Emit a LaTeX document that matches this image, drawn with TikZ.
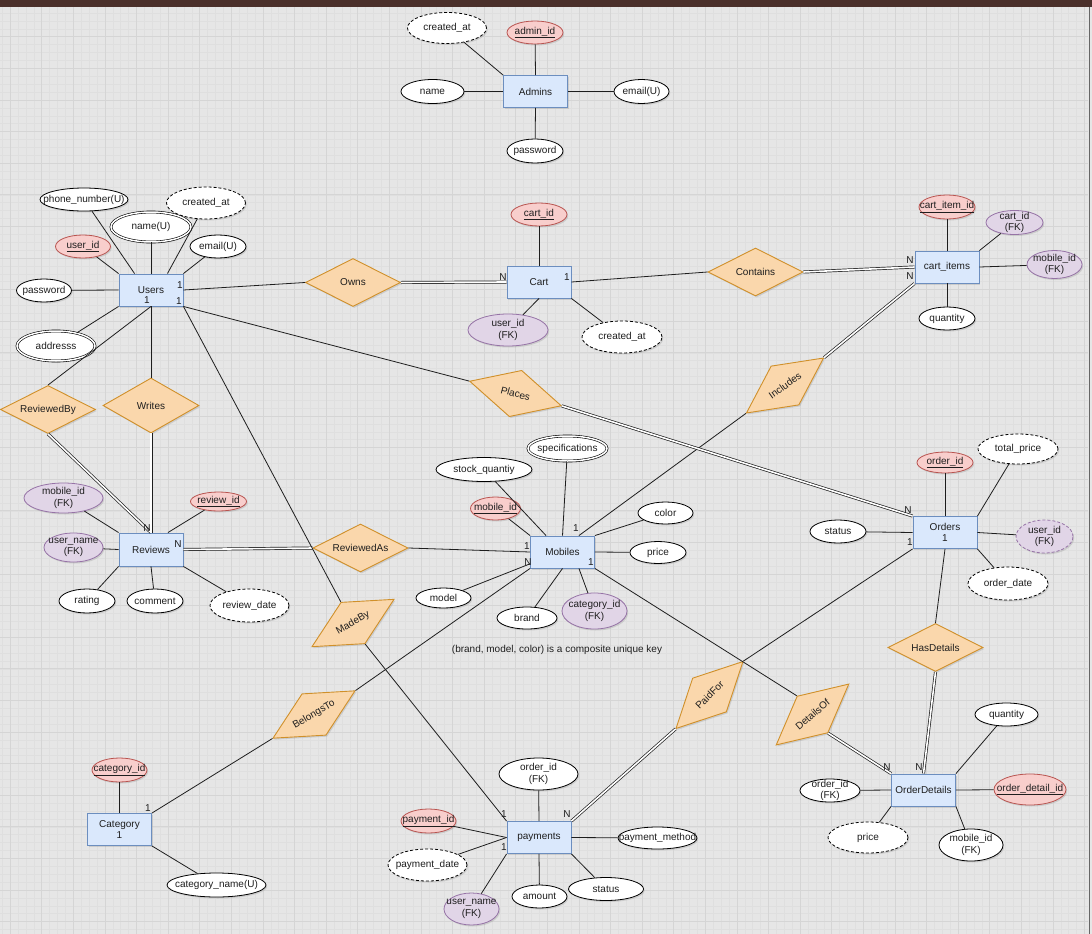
\documentclass[tikz,border=0pt]{standalone}
\usepackage{fontspec}
\setmainfont{Liberation Sans}
\usetikzlibrary{shapes.geometric,shadows}
\definecolor{entfill}{HTML}{DAE8FC}
\definecolor{entline}{HTML}{6C8EBF}
\definecolor{relfill}{HTML}{FAD7AC}
\definecolor{relline}{HTML}{D0902A}
\definecolor{pkfill}{HTML}{F8CECC}
\definecolor{pkline}{HTML}{B85450}
\definecolor{fkfill}{HTML}{E1D5E7}
\definecolor{fkline}{HTML}{9673A6}
\definecolor{canvas}{HTML}{E6E6E6}
\definecolor{gridmin}{HTML}{DFDFDF}
\definecolor{gridmaj}{HTML}{D5D5D5}
\definecolor{topbar}{HTML}{4B302B}
\definecolor{ink}{HTML}{1E1E1E}
\tikzset{
  x=1pt, y=-1pt,
  softshadow/.style={drop shadow={opacity=0.25, shadow xshift=1.2pt, shadow yshift=-1.5pt}},
  attr/.style={ellipse, draw=black, fill=white, line width=0.8pt, inner sep=0pt, softshadow,
    label={[align=center]center:#1}},
  pk/.style={attr={\underline{#1}}, draw=pkline, fill=pkfill},
  fk/.style={attr={#1}, draw=fkline, fill=fkfill},
  derived/.style={dash pattern=on 3pt off 2pt},
  multi/.style={double=white, double distance=1.5pt, line width=0.6pt},
  sz/.style 2 args={minimum width=#1pt, minimum height=#2pt},
  ln/.style={draw=ink, line width=0.8pt},
  dbl/.style={ln, double=white, double distance=1.6pt, line width=0.7pt},
  card/.style={inner sep=0pt},
}
\tikzstyle{every node}=[font=\fontsize{10}{11.5}\selectfont, text=ink]
\tikzstyle{ent}=[rectangle, draw=entline, fill=entfill, line width=0.9pt, minimum width=64pt,
  minimum height=32pt, inner sep=0pt, align=center, softshadow]
\tikzstyle{rel}=[diamond, aspect=2, draw=relline, fill=relfill, line width=0.9pt,
  minimum width=95pt, minimum height=48pt, inner sep=0pt, softshadow]

\begin{document}
\begin{tikzpicture}
  \useasboundingbox (0,0) rectangle (1092,934);
  \fill[canvas] (0,0) rectangle (1092,934);
  \foreach \gx in {2.1,10,...,1092} \draw[gridmin, line width=0.4pt] (\gx,7) -- (\gx,934);
  \foreach \gy in {5.1,13,...,934} \draw[gridmin, line width=0.4pt] (0,\gy) -- (1088,\gy);
  \foreach \gx in {10,41.6,...,1092} \draw[gridmaj, line width=0.5pt] (\gx,7) -- (\gx,934);
  \foreach \gy in {5.1,36.7,...,934} \draw[gridmaj, line width=0.5pt] (0,\gy) -- (1088,\gy);
  \fill[topbar] (0,0) rectangle (1092,7);
  \fill[black!60] (1088.5,7) rectangle (1090,934);

  % admins
  \node[ent] (adm) at (535.5,91.5) {Admins};
  \node[attr={created\_at}, derived, sz={79}{31}] (admcr) at (447,28) {};
  \node[pk={admin\_id}, sz={56}{23}] (admid) at (535,32.5) {};
  \node[attr=name, sz={63}{24}] (admnm) at (432.5,91.5) {};
  \node[attr={email(U)}, sz={55}{24}] (admem) at (641.5,91.5) {};
  \node[attr=password, sz={56}{24}] (admpw) at (535,151) {};

  % users
  \node[ent] (usr) at (151,290) {Users};
  \node[attr={phone\_number(U)}, sz={88}{23}] (usrph) at (84,199.5) {};
  \node[attr={created\_at}, derived, sz={79}{32}] (usrcr) at (206,203) {};
  \node[attr={name(U)}, multi, sz={80}{30}] (usrnm) at (151,227) {};
  \node[pk={user\_id}, sz={55}{23}] (usrid) at (83,246.5) {};
  \node[attr={email(U)}, sz={56}{23}] (usrem) at (218,246.5) {};
  \node[attr=password, sz={55}{23}] (usrpw) at (44,290.5) {};
  \node[attr=addresss, multi, sz={78}{30}] (usrad) at (56,346) {};

  % cart
  \node[ent] (crt) at (539,282) {Cart};
  \node[pk={cart\_id}, sz={56}{23}] (crtid) at (539,214.5) {};
  \node[fk={user\_id\\(FK)}, sz={80}{32}] (crtus) at (508,330) {};
  \node[attr={created\_at}, derived, sz={80}{32}] (crtcr) at (622,337) {};
  \node[rel] (own) at (353,282.5) {Owns};
  \node[rel] (cnt) at (755.5,272) {Contains};

  % cart items
  \node[ent] (cit) at (947,267) {cart\_items};
  \node[pk={cart\_item\_id}, sz={56}{24}] (citid) at (947,207) {};
  \node[fk={cart\_id\\(FK)}, sz={57}{24}] (citcr) at (1014.5,222.5) {};
  \node[fk={mobile\_id\\(FK)}, sz={55}{28}] (citmb) at (1054.5,264.5) {};
  \node[attr=quantity, sz={56}{23}] (citqt) at (947,318.5) {};
  \node[rel, rotate=35.5] (inc) at (785,385.5) {Includes};
  \node[rel, rotate=-15] (plc) at (515.5,393.5) {Places};

  % reviews
  \node[rel] (rby) at (48,409.5) {ReviewedBy};
  \node[rel, sz={96}{55}] (wrt) at (151,405.5) {Writes};
  \node[ent, minimum height=33pt] (rev) at (151,549.5) {Reviews};
  \node[fk={mobile\_id\\(FK)}, sz={79}{30}] (revmb) at (63.5,498) {};
  \node[pk={review\_id}, sz={56}{19}] (revid) at (218.5,501.5) {};
  \node[fk={user\_name\\(FK)}, sz={59}{29}] (revus) at (73.5,547.5) {};
  \node[attr=rating, sz={56}{24}] (revrt) at (87,601) {};
  \node[attr=comment, sz={56}{24}] (revcm) at (155,601) {};
  \node[attr={review\_date}, derived, sz={79}{33}] (revdt) at (249.5,605.5) {};
  \node[rel] (rva) at (360.5,548) {ReviewedAs};

  % mobiles
  \node[ent] (mob) at (562.5,552) {Mobiles};
  \node[attr={stock\_quantiy}, sz={96}{24}] (mobsq) at (484,469.5) {};
  \node[attr=specifications, multi, sz={79}{25}] (mobsp) at (567.5,448.5) {};
  \node[pk={mobile\_id}, sz={50}{23}] (mobid) at (495.5,508.5) {};
  \node[attr=color, sz={55}{22}] (mobcl) at (665.5,513) {};
  \node[attr=price, sz={56}{22}] (mobpr) at (658,552.5) {};
  \node[attr=model, sz={55}{20}] (mobmd) at (443.5,598) {};
  \node[attr=brand, sz={60}{22}] (mobbr) at (527,618) {};
  \node[fk={category\_id\\(FK)}, sz={65}{36}] (mobct) at (594.5,611) {};
  \node (note) at (557,650) {(brand, model, color) is a composite unique key};

  % orders
  \node[ent] (ord) at (945,532.5) {Orders\\1};
  \node[pk={order\_id}, sz={56}{21}] (ordid) at (945,462.5) {};
  \node[attr={total\_price}, derived, sz={80}{30}] (ordtp) at (1018,449) {};
  \node[attr=status, sz={56}{23}] (ordst) at (838,531.5) {};
  \node[fk={user\_id\\(FK)}, derived, sz={57}{33}] (ordus) at (1044.5,536.5) {};
  \node[attr={order\_date}, derived, sz={80}{33}] (orddt) at (1008,583.5) {};
  \node[rel] (hsd) at (935.5,647.5) {HasDetails};

  % order details
  \node[ent] (odt) at (923.5,790) {OrderDetails};
  \node[attr=quantity, sz={63}{23}] (odtqt) at (1006.5,714.5) {};
  \node[pk={order\_detail\_id}, sz={72}{31}] (odtid) at (1030,789.5) {};
  \node[attr={order\_id\\(FK)}, sz={60}{23}] (odtor) at (830,790.5) {};
  \node[attr=price, derived, sz={80}{31}] (odtpr) at (868,837.5) {};
  \node[attr={mobile\_id\\(FK)}, sz={64}{32}] (odtmb) at (971,845) {};
  \node[rel, rotate=40] (dto) at (812.5,714.5) {DetailsOf};
  \node[rel, rotate=45] (pdf) at (709.5,695) {PaidFor};

  % payments
  \node[rel, rotate=30] (mby) at (353,623) {MadeBy};
  \node[ent] (pay) at (539,837.5) {payments};
  \node[attr={order\_id\\(FK)}, sz={79}{32}] (payor) at (538.5,774) {};
  \node[pk={payment\_id}, sz={55}{24}] (payid) at (428.5,821) {};
  \node[attr={payment\_date}, derived, sz={79}{32}] (paydt) at (427.5,865) {};
  \node[fk={user\_name\\(FK)}, sz={55}{32}] (payus) at (471.5,909) {};
  \node[attr=amount, sz={55}{23}] (payam) at (539.5,896.5) {};
  \node[attr=status, sz={75}{23}] (payst) at (606,889) {};
  \node[attr={payment\_method}, sz={79}{22}] (paymt) at (657.5,838) {};

  % category
  \node[rel, rotate=30] (blt) at (314,714.5) {BelongsTo};
  \node[ent] (cat) at (119.5,829.5) {Category\\1};
  \node[pk={category\_id}, sz={55}{24}] (catid) at (119.5,770) {};
  \node[attr={category\_name(U)}, sz={99}{24}] (catnm) at (216.5,885) {};

  % attribute links
  \draw[ln] (admcr) -- (adm.north west);
  \draw[ln] (admid) -- (adm.north);
  \draw[ln] (admnm) -- (adm.west);
  \draw[ln] (admem) -- (adm.east);
  \draw[ln] (admpw) -- (adm.south);
  \draw[ln] (usrph) -- (usr.135);
  \draw[ln] (usrcr) -- (usr.45);
  \draw[ln] (usrnm) -- (usr.north);
  \draw[ln] (usrid) -- (usr.north west);
  \draw[ln] (usrem) -- (usr.north east);
  \draw[ln] (usrpw) -- (usr.west);
  \draw[ln] (usrad) -- (usr.south west);
  \draw[ln] (crtid) -- (crt.north);
  \draw[ln] (crtus) -- (crt.south);
  \draw[ln] (crtcr) -- (crt.south east);
  \draw[ln] (citid) -- (cit.north);
  \draw[ln] (citcr) -- (cit.north east);
  \draw[ln] (citmb) -- (cit.east);
  \draw[ln] (citqt) -- (cit.south);
  \draw[ln] (revmb) -- (rev.north west);
  \draw[ln] (revid) -- (rev.45);
  \draw[ln] (revus) -- (rev.west);
  \draw[ln] (revrt) -- (rev.south west);
  \draw[ln] (revcm) -- (rev.south);
  \draw[ln] (revdt) -- (rev.south east);
  \draw[ln] (mobsq) -- (mob.135);
  \draw[ln] (mobsp) -- (mob.north);
  \draw[ln] (mobid) -- (mob.north west);
  \draw[ln] (mobcl) -- (mob.north east);
  \draw[ln] (mobpr) -- (mob.east);
  \draw[ln] (mobmd) -- (mob.200);
  \draw[ln] (mobbr) -- (mob.south);
  \draw[ln] (mobct) -- (mob.315);
  \draw[ln] (ordid) -- (ord.north);
  \draw[ln] (ordtp) -- (ord.north east);
  \draw[ln] (ordst) -- (ord.west);
  \draw[ln] (ordus) -- (ord.east);
  \draw[ln] (orddt) -- (ord.south east);
  \draw[ln] (odtqt) -- (odt.north east);
  \draw[ln] (odtid) -- (odt.east);
  \draw[ln] (odtor) -- (odt.west);
  \draw[ln] (odtpr) -- (odt.south west);
  \draw[ln] (odtmb) -- (odt.south east);
  \draw[ln] (payor) -- (pay.north);
  \draw[ln] (payid) -- (pay.west);
  \draw[ln] (paydt) -- (pay.west);
  \draw[ln] (payus) -- (pay.south west);
  \draw[ln] (payam) -- (pay.south);
  \draw[ln] (payst) -- (pay.south east);
  \draw[ln] (paymt) -- (pay.east);
  \draw[ln] (catid) -- (cat.north);
  \draw[ln] (catnm) -- (cat.south east);

  % relationships
  \draw[ln] (usr.east) -- (own.west);
  \draw[dbl] (own.east) -- (crt.west);
  \draw[ln] (crt.east) -- (cnt.west);
  \draw[dbl] (cnt.east) -- (cit.west);
  \draw[ln] (mob.45) -- (inc.west);
  \draw[dbl] (inc.east) -- (cit.south west);
  \draw[ln] (usr.south east) -- (plc.west);
  \draw[dbl] (plc.east) -- (ord.north west);
  \draw[ln] (usr.south) -- (rby.north);
  \draw[dbl] (rby.south) -- (rev.north);
  \draw[ln] (usr.south) -- (wrt.north);
  \draw[dbl] (wrt.south) -- (rev.north);
  \draw[dbl] (rev.east) -- (rva.west);
  \draw[ln] (rva.east) -- (mob.west);
  \draw[ln] (usr.south east) -- (mby.north);
  \draw[ln] (mby.south) -- (pay.north west);
  \draw[ln] (mob.south west) -- (blt.east);
  \draw[ln] (blt.west) -- (cat.north east);
  \draw[ln] (ord.south west) -- (pdf.east);
  \draw[dbl] (pdf.west) -- (pay.north east);
  \draw[ln] (mob.south east) -- (dto.north);
  \draw[dbl] (dto.south) -- (odt.north west);
  \draw[ln] (ord.south) -- (hsd.north);
  \draw[dbl] (hsd.south) -- (odt.north);

  % cardinalities
  \node[card] (k1) at (180,285) {1};
  \node[card] (k2) at (147,300) {1};
  \node[card] (k3) at (179,301) {1};
  \node[card] (k4) at (503,277) {N};
  \node[card] (k5) at (567,277) {1};
  \node[card] (k6) at (910,260) {N};
  \node[card] (k7) at (910,276) {N};
  \node[card] (k8) at (147,528) {N};
  \node[card] (k9) at (178,544) {N};
  \node[card] (k10) at (576,528) {1};
  \node[card] (k11) at (527,546) {1};
  \node[card] (k12) at (528,562) {N};
  \node[card] (k13) at (591,562) {1};
  \node[card] (k14) at (908,510) {N};
  \node[card] (k15) at (910,542) {1};
  \node[card] (k16) at (887,767) {N};
  \node[card] (k17) at (919,767) {N};
  \node[card] (k18) at (504,814) {1};
  \node[card] (k19) at (567,814) {N};
  \node[card] (k20) at (504,847) {1};
  \node[card] (k21) at (148,808) {1};
\end{tikzpicture}
\end{document}
